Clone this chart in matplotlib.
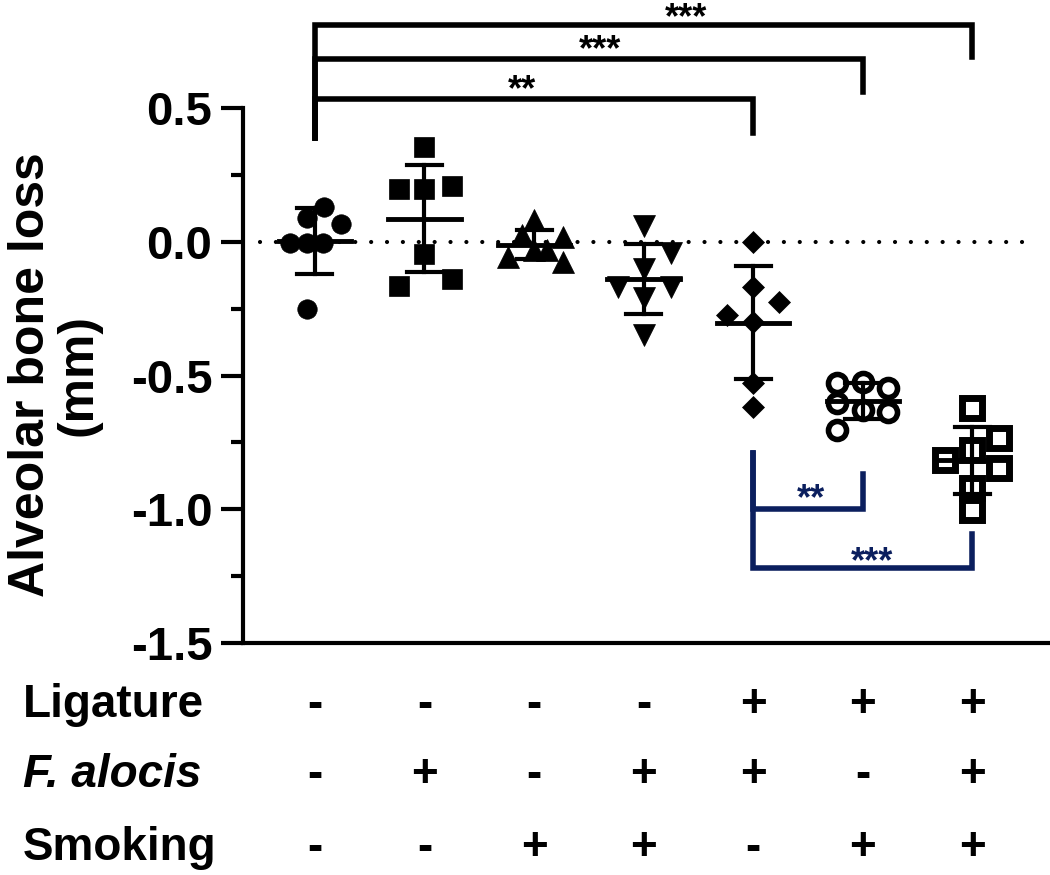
import numpy as np
import matplotlib.pyplot as plt
import matplotlib.transforms as mtransforms

plt.rcParams['font.family'] = ['Liberation Sans', 'DejaVu Sans']
plt.rcParams['font.weight'] = 'bold'

# alveolar bone loss (mm), 7 mice per group
g1 = [0.130, 0.089, 0.066, -0.005, -0.005, -0.005, -0.251]
g2 = [0.354, 0.197, 0.197, 0.208, -0.046, -0.165, -0.139]
g3 = [0.081, 0.025, 0.018, -0.057, -0.031, -0.031, -0.076]
g4 = [0.06, -0.04, -0.10, -0.17, -0.17, -0.21, -0.35]
g5 = [-0.001, -0.169, -0.225, -0.274, -0.300, -0.528, -0.618]
g6 = [-0.528, -0.524, -0.547, -0.603, -0.629, -0.636, -0.704]
g7 = [-0.621, -0.734, -0.78, -0.816, -0.846, -0.92, -1.003]
groups = [g1, g2, g3, g4, g5, g6, g7]

# treatment table under the axis
row_names = ['Ligature', 'F. alocis', 'Smoking']
ligature = ['-', '-', '-', '-', '+', '+', '+']
alocis = ['-', '+', '-', '+', '+', '-', '+']
smoking = ['-', '-', '+', '+', '-', '+', '+']

# significance brackets: (group a, group b, label)
sig_black = [(0, 6, '***'), (0, 5, '***'), (0, 4, '**')]
sig_blue = [(4, 5, '**'), (4, 6, '***')]

# horizontal spread of the scatter points (layout only)
spread = [
    [0.08, -0.07, 0.24, -0.23, -0.07, 0.07, -0.07],
    [0, -0.23, 0, 0.25, 0, -0.23, 0.25],
    [0, -0.11, 0.26, -0.24, 0, 0.12, 0.26],
    [0, 0.25, 0, -0.23, 0.25, 0, 0],
    [0, 0, 0.24, -0.24, 0, 0, 0],
    [-0.23, 0, 0.23, -0.23, 0, 0.23, -0.23],
    [0, 0.24, 0, -0.25, 0.24, 0, 0],
]
styles = [
    dict(marker='o', ms=14, mfc='black', mew=0.5),
    dict(marker='s', ms=14, mfc='black', mew=0.5),
    dict(marker='^', ms=16, mfc='black', mew=0.5),
    dict(marker='v', ms=16, mfc='black', mew=0.5),
    dict(marker='D', ms=11.5, mfc='black', mew=0.5),
    dict(marker='o', ms=13, mfc='white', mew=4),
    dict(marker='s', ms=14.5, mfc='white', mew=5),
]
navy = '#0b1f5e'

fig = plt.figure(figsize=(10.5, 8.75), dpi=100)
ax = fig.add_axes([0.2314, 0.2651, 0.7686, 0.7349])

for i, vals in enumerate(groups):
    vals = np.array(vals)
    x = i + np.array(spread[i])
    ax.plot(x, vals, ls='none', mec='black', zorder=3, clip_on=False, **styles[i])
    m = vals.mean()
    sd = vals.std(ddof=1)
    ax.plot([i, i], [m - sd, m + sd], color='black', lw=3, zorder=4)
    ax.plot([i - 0.16, i + 0.16], [m + sd, m + sd], color='black', lw=3, zorder=4)
    ax.plot([i - 0.16, i + 0.16], [m - sd, m - sd], color='black', lw=3, zorder=4)
    ax.plot([i - 0.33, i + 0.33], [m, m], color='black', lw=3.5, zorder=4)

ax.axhline(0, xmin=0.021, xmax=0.981, color='black', lw=3,
           ls=(0, (0.01, 3.8)), dash_capstyle='round', zorder=2)

# black brackets above the plot
black_h = [0.810, 0.683, 0.534]
black_end = [0.691, 0.560, 0.407]
black_star = [(3.39, 0.799), (2.60, 0.68), (1.89, 0.53)]
for k, (a, b, lab) in enumerate(sig_black):
    ax.plot([a, a, b, b], [0.388, black_h[k], black_h[k], black_end[k]],
            color='black', lw=4, solid_joinstyle='miter', clip_on=False)
    ax.text(black_star[k][0], black_star[k][1], lab, ha='center', va='baseline',
            fontsize=26, fontweight='bold', clip_on=False)

# navy brackets below
blue_h = [-0.999, -1.220]
blue_end = [-0.868, -1.093]
blue_star = [(4.53, -1.0), (5.09, -1.235)]
for k, (a, b, lab) in enumerate(sig_blue):
    ax.plot([a, a, b, b], [-0.790, blue_h[k], blue_h[k], blue_end[k]],
            color=navy, lw=4, solid_joinstyle='miter')
    ax.text(blue_star[k][0], blue_star[k][1], lab, ha='center', va='baseline',
            fontsize=26, fontweight='bold', color=navy)

ax.set_xlim(-0.657, 6.71)
ax.set_ylim(-1.5, 0.904)
ax.set_yticks([-1.5, -1.0, -0.5, 0.0, 0.5])
ax.set_yticklabels(['-1.5', '-1.0', '-0.5', '0.0', '0.5'])
ax.set_yticks([-1.25, -0.75, -0.25, 0.25], minor=True)
ax.set_xticks([])
ax.tick_params(axis='y', which='major', length=16, width=3, pad=6, labelsize=34)
ax.tick_params(axis='y', which='minor', length=9, width=3)
for lab in ax.get_yticklabels():
    lab.set_fontweight('bold')
ax.spines['top'].set_visible(False)
ax.spines['right'].set_visible(False)
ax.spines['left'].set_linewidth(3)
ax.spines['bottom'].set_linewidth(3)
ax.spines['left'].set_bounds(-1.5, 0.5)

fig.text(0.052, 0.5714, 'Alveolar bone loss\n(mm)', rotation=90, ha='center',
         va='center', multialignment='center', fontsize=36, fontweight='bold',
         linespacing=1.05)

# treatment table
blend = mtransforms.blended_transform_factory(ax.transData, fig.transFigure)
row_y = [0.1806, 0.1006, 0.0171]
rows = [ligature, alocis, smoking]
for r in range(3):
    fig.text(0.022, row_y[r], row_names[r], ha='left', va='baseline', fontsize=33,
             fontweight='bold', fontstyle='italic' if r == 1 else 'normal')
    for i, s in enumerate(rows[r]):
        ax.text(i, row_y[r], s, transform=blend, ha='center', va='baseline',
                fontsize=33, fontweight='bold', clip_on=False)

fig.savefig('out.png', dpi=100)
